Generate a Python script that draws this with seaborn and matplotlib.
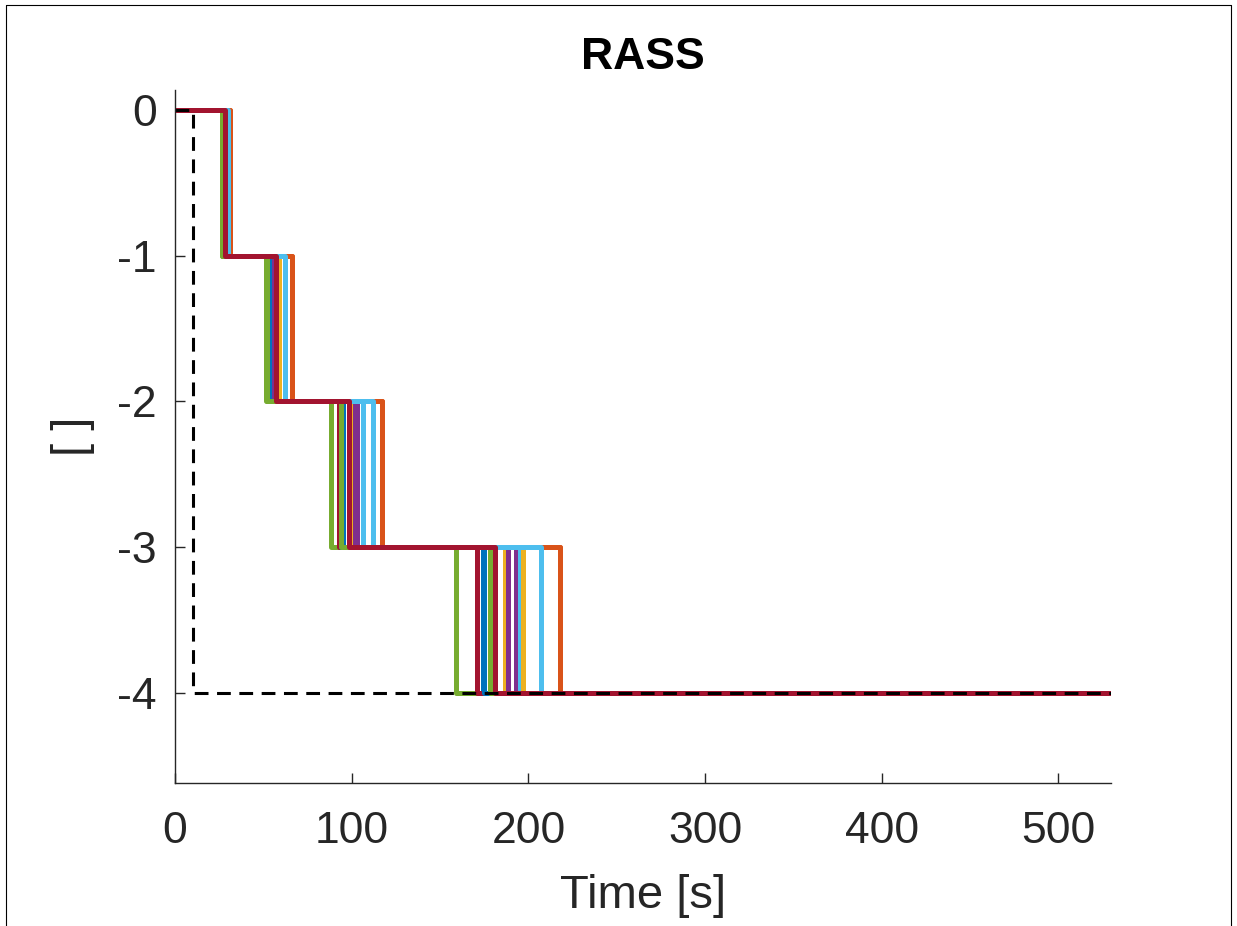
import numpy as np
import pandas as pd
import matplotlib
matplotlib.use("Agg")
import matplotlib.pyplot as plt
import seaborn as sns
from matplotlib.lines import Line2D

# ---- data ----
levels = [0, -1, -2, -3, -4]
t_end = 530
# transition times (s) for each run: 0->-1, -1->-2, -2->-3, -3->-4
run_names = [f"run{i+1}" for i in range(14)]
t1 = [27, 31, 29, 28, 26.5, 30, 28, 27.5, 31, 29, 28, 26.5, 30, 28]
t2 = [54, 66, 59, 56, 51.5, 62, 56, 54, 66, 59, 56, 52, 62, 57]
t3 = [95, 117, 99.5, 103, 88, 106.5, 93, 94, 117, 100, 102, 94, 112, 98.5]
t4 = [174.5, 218, 187, 193, 159, 195, 171, 175, 218, 197, 188.7, 178, 207, 181]
ref_times = [0, 10, t_end]
ref_values = [0, -4, -4]

matlab_colors = ["#0072BD", "#D95319", "#EDB120", "#7E2F8E",
                 "#77AC30", "#4DBEEE", "#A2142F"]
palette = [matlab_colors[i % 7] for i in range(len(run_names))]

rows = []
for i, name in enumerate(run_names):
    times = [0, t1[i], t2[i], t3[i], t4[i], t_end]
    vals = levels + [levels[-1]]
    for t, v in zip(times, vals):
        rows.append({"run": name, "time": t, "value": v})
df = pd.DataFrame(rows)
ref_df = pd.DataFrame({"time": ref_times, "value": ref_values})

sns.set_theme(style="white")
plt.rcParams["font.family"] = ["Liberation Sans", "DejaVu Sans"]
txt = "#262626"

fig = plt.figure(figsize=(12.37, 9.26), dpi=100)
ax = fig.add_axes([0.1415, 0.1545, 0.757, 0.7485])

sns.lineplot(data=df, x="time", y="value", hue="run", hue_order=run_names,
             palette=palette, estimator=None, sort=False, legend=False,
             drawstyle="steps-post", linewidth=3.6, ax=ax)
sns.lineplot(data=ref_df, x="time", y="value", estimator=None, sort=False,
             drawstyle="steps-post", color="black", linewidth=2.2,
             linestyle=(0, (4.5, 2.8)), ax=ax)

ax.set_xlim(0, 530)
ax.set_ylim(-4.617, 0.137)
ax.set_xticks([0, 100, 200, 300, 400, 500])
ax.set_yticks([0, -1, -2, -3, -4])
ax.set_yticklabels(["0", "-1", "-2", "-3", "-4"])
ax.tick_params(direction="in", length=7, width=1, colors=txt,
               labelsize=32, top=False, right=False, bottom=True, left=True)
ax.tick_params(axis="y", pad=13)
ax.tick_params(axis="x", pad=20)
for s in ["top", "right"]:
    ax.spines[s].set_visible(False)
for s in ["left", "bottom"]:
    ax.spines[s].set_color(txt)
    ax.spines[s].set_linewidth(1.0)

ax.set_xlabel("Time [s]", fontsize=34, color=txt, labelpad=16)
ax.set_ylabel("[ ]", fontsize=34, color=txt, labelpad=16)
fig.text(0.52, 0.938, "RASS", ha="center", va="center", fontsize=32,
         fontweight="bold", color="black")

# outer frame lines (as in the reference screenshot)
fig.add_artist(Line2D([0.0045, 0.0045], [0, 0.995], transform=fig.transFigure,
                      color="black", linewidth=0.8))
fig.add_artist(Line2D([0.9955, 0.9955], [0, 0.995], transform=fig.transFigure,
                      color="black", linewidth=0.8))
fig.add_artist(Line2D([0.0045, 0.9955], [0.995, 0.995], transform=fig.transFigure,
                      color="black", linewidth=0.8))

fig.savefig("out.png", dpi=100, facecolor="white")
